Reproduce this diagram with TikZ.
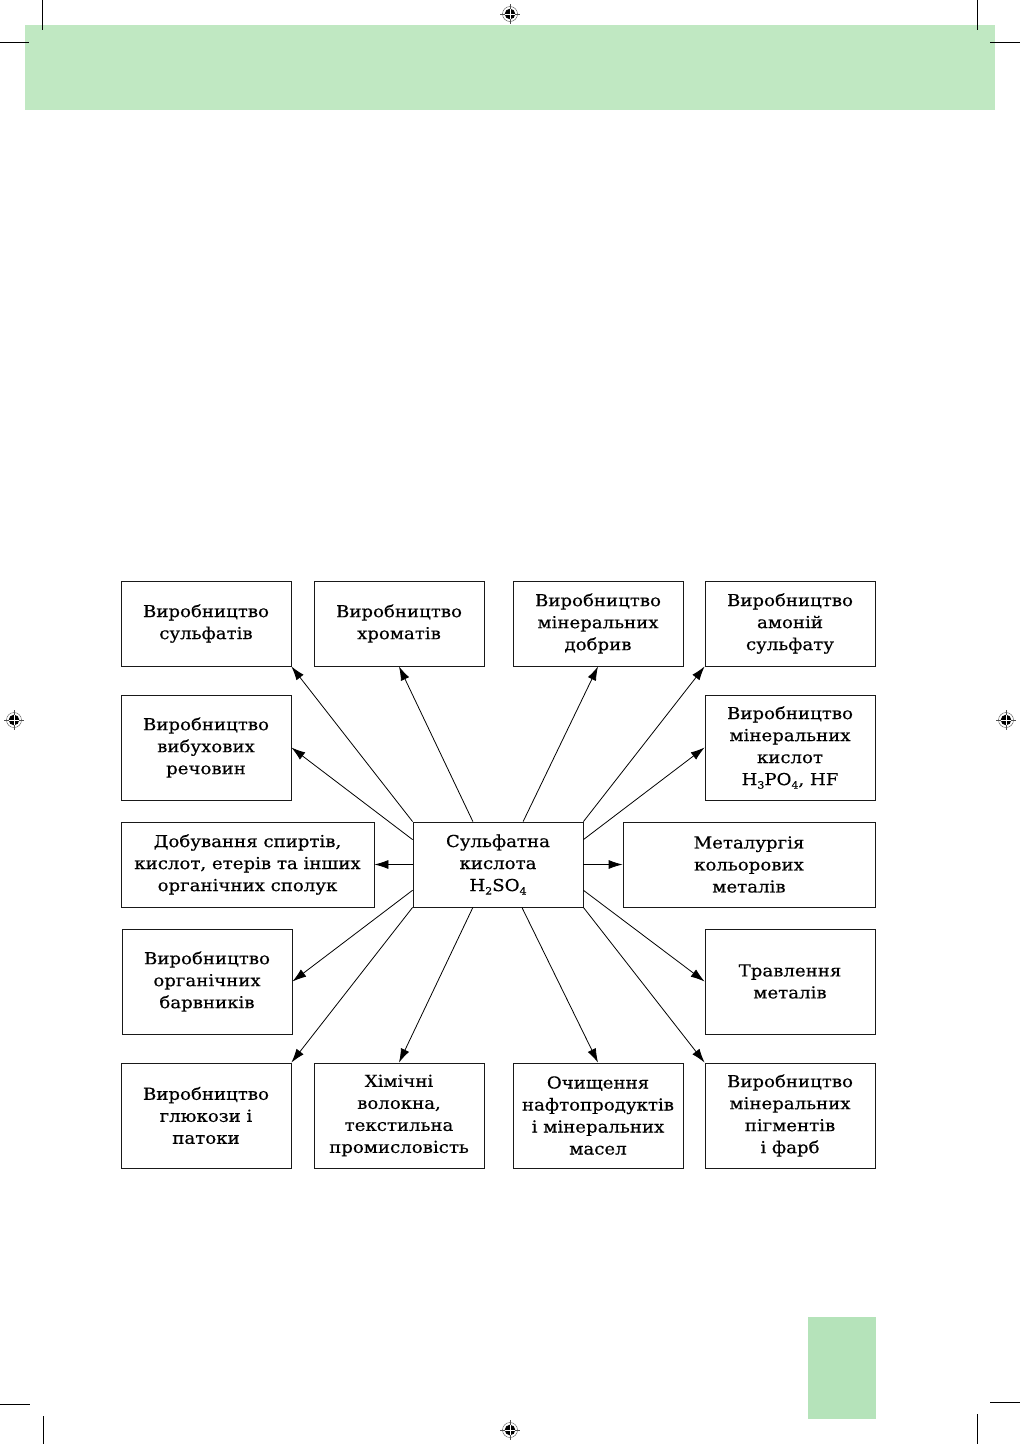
\documentclass[tikz,border=0pt]{standalone}
\usepackage{fontspec}
\setmainfont[FakeStretch=1.1,FakeBold=0.45]{DejaVu Serif}
\usetikzlibrary{arrows.meta,calc}
\definecolor{bargreen}{HTML}{C0E8C2}
\definecolor{tabgreen}{HTML}{B5E3BA}
\newcommand\sbs[1]{\raisebox{-3.5pt}{\fontsize{10}{10}\selectfont #1}}
\tikzset{
  box/.style={draw=black!90, line width=0.8pt, align=center, inner sep=0pt,
    font=\fontsize{16.5}{22}\selectfont, minimum width=170pt, minimum height=85pt},
  tall/.style={minimum height=105pt},
  wide/.style={minimum width=253pt},
  arr/.style={line width=0.8pt, -{Latex[length=14pt,width=9pt]}},
  crop/.style={line width=0.9pt},
  regmark/.pic={
    \draw[line width=0.4pt, black!70] (0,0) circle (7.5);
    \fill[black] (0,0) circle (5.3);
    \draw[white, line width=0.9pt] (-5.3,0) -- (5.3,0) (0,-5.3) -- (0,5.3);
    \draw[line width=0.3pt, black!70] (-10,0) -- (-5.3,0) (5.3,0) -- (10,0) (0,-10) -- (0,-5.3) (0,5.3) -- (0,10);
  }
}
\begin{document}
\begin{tikzpicture}[x=1pt,y=-1pt]
\useasboundingbox (0,0) rectangle (1020,1444);
% page decoration
\fill[bargreen] (25,25) rectangle (995,110);
\fill[tabgreen] (808,1317) rectangle (876,1419);
\draw[crop] (42,0) -- (42,30) (0,42) -- (29,42);
\draw[crop] (977,0) -- (977,30) (990,42) -- (1020,42);
\draw[crop] (0,1404) -- (30,1404) (43,1416) -- (43,1444);
\draw[crop] (990,1402) -- (1020,1402) (977,1414) -- (977,1444);
\pic at (510,14) {regmark};
\pic at (14,720) {regmark};
\pic at (1006,720) {regmark};
\pic at (510,1430) {regmark};
% nodes
\node[box] (c) at (498,864.5) {Сульфатна\\кислота\\H\sbs{2}SO\sbs{4}};
\node[box] (a1) at (206,623.5) {Виробництво\\сульфатів};
\node[box] (a2) at (399,623.5) {Виробництво\\хроматів};
\node[box] (a3) at (598,623.5) {Виробництво\\мінеральних\\добрив};
\node[box] (a4) at (790,623.5) {Виробництво\\амоній\\сульфату};
\node[box,tall] (b1) at (206,747.5) {Виробництво\\вибухових\\речовин};
\node[box,tall] (b4) at (790,747.5) {Виробництво\\мінеральних\\кислот\\H\sbs{3}PO\sbs{4}, HF};
\node[box,wide] (l) at (247.5,864.5) {Добування спиртів,\\кислот, етерів та інших\\органічних сполук};
\node[box,minimum width=252pt] (r) at (749,864.5) {Металургія\\кольорових\\металів};
\node[box,tall] (d1) at (207,981.5) {Виробництво\\органічних\\барвників};
\node[box,tall] (d4) at (790,981.5) {Травлення\\металів};
\node[box,tall] (e1) at (206,1115.5) {Виробництво\\глюкози і\\патоки};
\node[box,tall] (e2) at (399,1115.5) {Хімічні\\волокна,\\текстильна\\промисловість};
\node[box,tall] (e3) at (598,1115.5) {Очищення\\нафтопродуктів\\і мінеральних\\масел};
\node[box,tall] (e4) at (790,1115.5) {Виробництво\\мінеральних\\пігментів\\і фарб};
% connectors
\draw[arr] (c.north west) -- (a1.south east);
\draw[arr] ($(c.north west)!0.353!(c.north east)$) -- (a2.south);
\draw[arr] ($(c.north west)!0.647!(c.north east)$) -- (a3.south);
\draw[arr] (c.north east) -- (a4.south west);
\draw[arr] ($(c.north west)!0.21!(c.south west)$) -- (b1.east);
\draw[arr] ($(c.north east)!0.21!(c.south east)$) -- (b4.west);
\draw[arr] (c.west) -- (l.east);
\draw[arr] (c.east) -- (r.west);
\draw[arr] ($(c.south west)!0.2!(c.north west)$) -- (d1.east);
\draw[arr] ($(c.south east)!0.2!(c.north east)$) -- (d4.west);
\draw[arr] (c.south west) -- (e1.north east);
\draw[arr] ($(c.south west)!0.353!(c.south east)$) -- (e2.north);
\draw[arr] ($(c.south west)!0.64!(c.south east)$) -- (e3.north);
\draw[arr] (c.south east) -- (e4.north west);
\end{tikzpicture}
\end{document}
